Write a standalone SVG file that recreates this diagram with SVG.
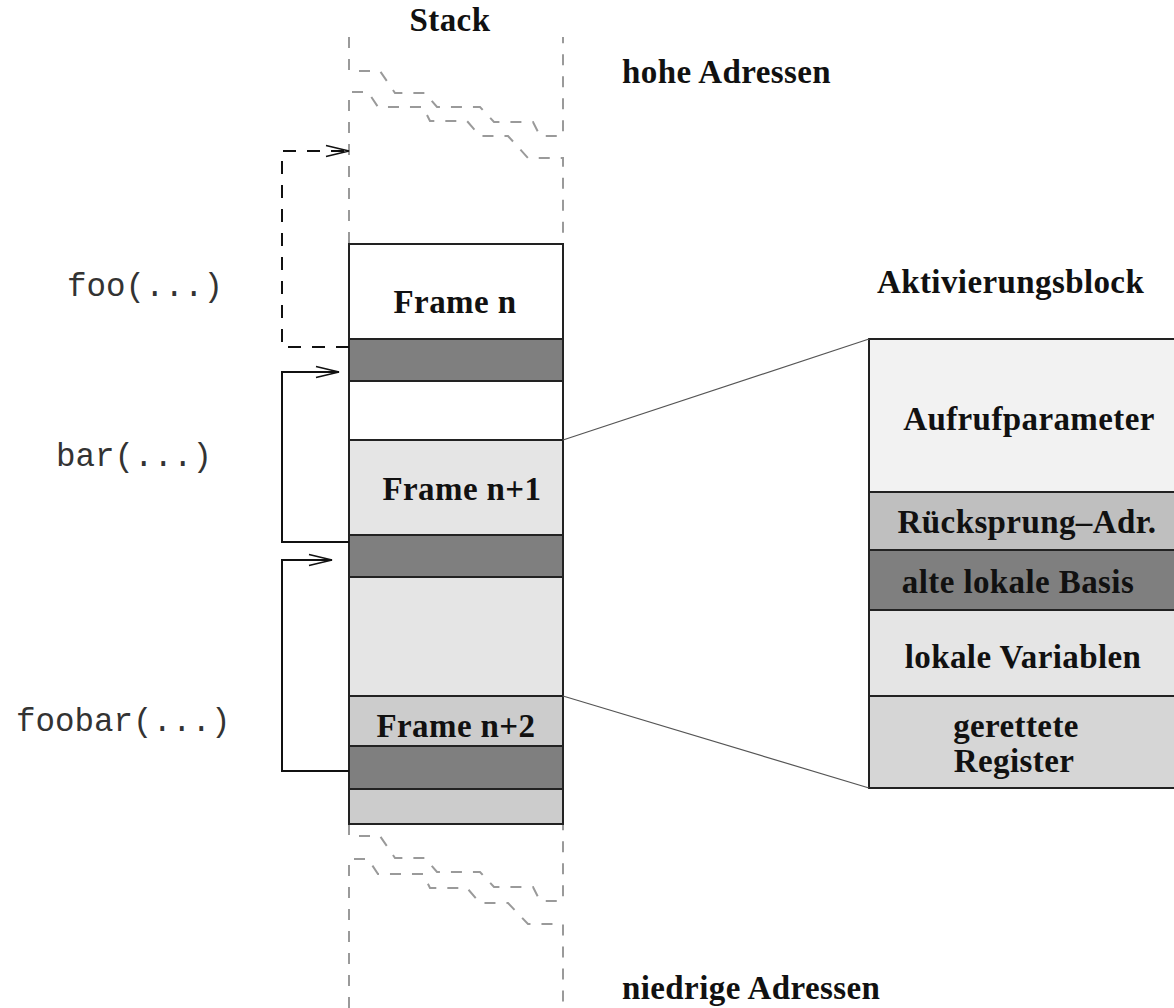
<svg xmlns="http://www.w3.org/2000/svg" width="1174" height="1008" viewBox="0 0 1174 1008">
  <style>
    .lbl { font-family: "Liberation Serif", "Times New Roman", serif; font-weight: bold; font-size: 33px; letter-spacing: 0.4px; fill: #111; }
    .mid { text-anchor: middle; }
    .code { font-family: "Liberation Mono", "Courier New", monospace; font-size: 32.5px; fill: #333; }
    .band { stroke: #222; stroke-width: 2; }
    .white { fill: #ffffff; }
    .dark { fill: #7f7f7f; }
    .light { fill: #e5e5e5; }
    .mgray { fill: #cccccc; }
    .brk { fill: none; stroke: #9a9a9a; stroke-width: 2; stroke-dasharray: 11 11; }
    .call { fill: none; stroke: #111; stroke-width: 2; }
    .dashed { stroke-dasharray: 13 11; }
    .zoom { fill: none; stroke: #555; stroke-width: 1.2; }
  </style>
  <defs>
    <marker id="stick" markerUnits="userSpaceOnUse" markerWidth="30" markerHeight="16" refX="24" refY="8" orient="auto">
      <path d="M1,2.5 L24,8 L1,13.5" fill="none" stroke="#111" stroke-width="1.6"/>
    </marker>
  </defs>

  <rect width="1174" height="1008" fill="#ffffff"/>

  <!-- headings -->
  <text class="lbl mid" x="450" y="31">Stack</text>
  <text class="lbl" x="622" y="83">hohe Adressen</text>
  <text class="lbl" x="877" y="293">Aktivierungsblock</text>
  <text class="lbl" x="622" y="999">niedrige Adressen</text>

  <!-- function labels -->
  <text class="code" x="67" y="296">foo(...)</text>
  <text class="code" x="56" y="466">bar(...)</text>
  <text class="code" x="16" y="731">foobar(...)</text>

  <!-- broken stack edges, top and bottom -->
  <g id="stack-break">
    <path class="brk" d="M349,37 V71 H380 L395,93 H425 L437,107 H480 L494,122 H533 L540,136 H563 V37"/>
    <path class="brk" d="M349,243 V92 H368 L378,107 H423 L430,121 H467 L480,136 H508 L528,158 H563 V243"/>
    <path class="brk" d="M349,824 V836 H380 L395,858 H425 L437,872 H480 L494,887 H533 L540,901 H563 V824"/>
    <path class="brk" d="M349,1008 V859 H368 L378,874 H423 L430,888 H467 L480,903 H508 L528,924 H563 V1008"/>
  </g>

  <!-- stack frames -->
  <g id="frame-n">
    <rect class="band white" x="349" y="244" width="214" height="95"/>
    <text class="lbl mid" x="455" y="313">Frame n</text>
  </g>
  <g id="base-n">
    <rect class="band dark" x="349" y="339" width="214" height="42"/>
  </g>
  <g id="gap-n">
    <rect class="band white" x="349" y="381" width="214" height="59"/>
  </g>
  <g id="frame-n1">
    <rect class="band light" x="349" y="440" width="214" height="95"/>
    <text class="lbl mid" x="462" y="500">Frame n+1</text>
  </g>
  <g id="base-n1">
    <rect class="band dark" x="349" y="535" width="214" height="42"/>
  </g>
  <g id="locals-n1">
    <rect class="band light" x="349" y="577" width="214" height="119"/>
  </g>
  <g id="frame-n2">
    <rect class="band mgray" x="349" y="696" width="214" height="50"/>
    <text class="lbl mid" x="456" y="737">Frame n+2</text>
  </g>
  <g id="base-n2">
    <rect class="band dark" x="349" y="746" width="214" height="43"/>
  </g>
  <g id="tail-n2">
    <rect class="band mgray" x="349" y="789" width="214" height="35"/>
  </g>

  <!-- activation record detail -->
  <g id="aufrufparameter">
    <rect class="band" fill="#f2f2f2" x="869" y="339" width="320" height="153"/>
    <text class="lbl mid" x="1029" y="430">Aufrufparameter</text>
  </g>
  <g id="ruecksprung">
    <rect class="band" fill="#bfbfbf" x="869" y="492" width="320" height="58"/>
    <text class="lbl mid" x="1027" y="533">Rücksprung–Adr.</text>
  </g>
  <g id="alte-basis">
    <rect class="band" fill="#7f7f7f" x="869" y="550" width="320" height="60"/>
    <text class="lbl mid" x="1018" y="593">alte lokale Basis</text>
  </g>
  <g id="lokale-variablen">
    <rect class="band" fill="#e5e5e5" x="869" y="610" width="320" height="86"/>
    <text class="lbl mid" x="1023" y="668">lokale Variablen</text>
  </g>
  <g id="register">
    <rect class="band" fill="#d6d6d6" x="869" y="696" width="320" height="92"/>
    <text class="lbl mid" x="1016" y="737">gerettete</text>
    <text class="lbl mid" x="1014" y="772">Register</text>
  </g>

  <!-- connectors -->
  <g id="connectors">
    <path class="call dashed" d="M349,347 H282 V151 H349" marker-end="url(#stick)"/>
    <path class="call" d="M349,542 H282 V372 H339" marker-end="url(#stick)"/>
    <path class="call" d="M349,771 H282 V560 H332" marker-end="url(#stick)"/>
    <path class="zoom" d="M563,440 L869,339"/>
    <path class="zoom" d="M563,696 L869,788"/>
  </g>
</svg>
